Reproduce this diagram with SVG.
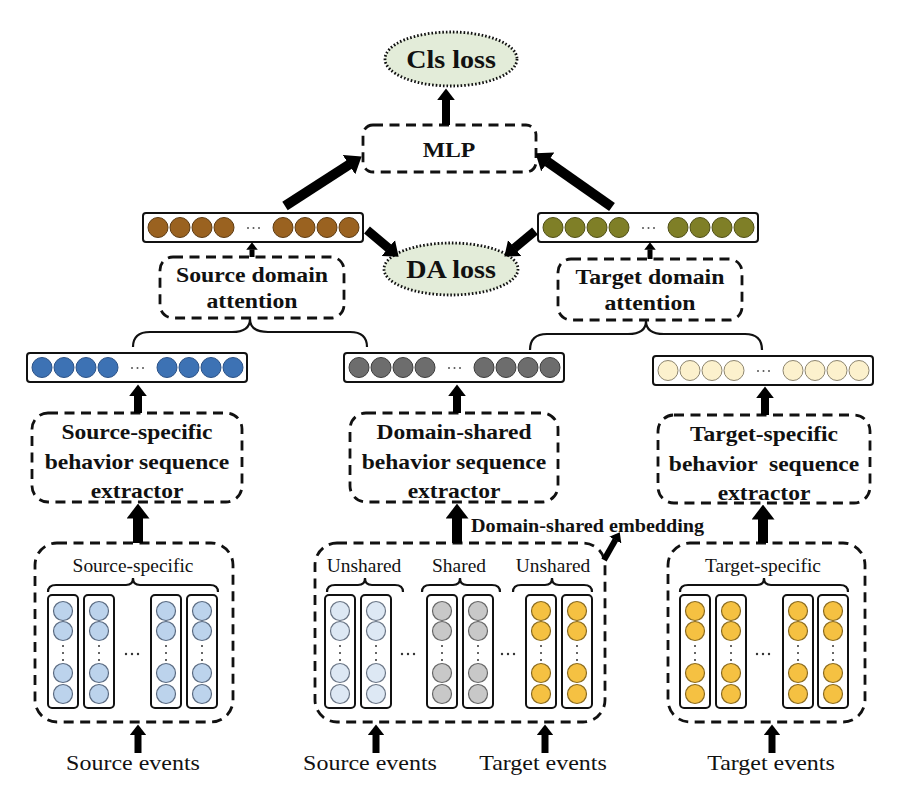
<svg xmlns="http://www.w3.org/2000/svg" xmlns:xlink="http://www.w3.org/1999/xlink" width="900" height="804" viewBox="0 0 900 804">
<style>
text{font-family:"Liberation Serif","Times New Roman",serif;fill:#111;text-anchor:middle}
.b{font-weight:bold}
.dash{fill:#fff;stroke:#111;stroke-width:2.8;stroke-dasharray:10 6.5}
.dot{fill:#e3ecd9;stroke:#111;stroke-width:2.8;stroke-dasharray:1.6 2}
.arr{stroke:#000;fill:none;marker-end:url(#ah)}
.brace{fill:none;stroke:#111;stroke-width:2.2}
</style>
<defs>
<marker id="ah" viewBox="0 0 15 23" markerWidth="1.5" markerHeight="2.3" refX="0.6" refY="11.5" orient="auto" markerUnits="strokeWidth">
<path d="M0,0 L15,11.5 L0,23 z" fill="#000"/>
</marker>
<g id="vec">
<rect x="0" y="0" width="220" height="29" rx="3" fill="#fff" stroke="#111" stroke-width="2"/>
<g stroke-width="1">
<circle cx="15" cy="14.5" r="10"/><circle cx="37" cy="14.5" r="10"/><circle cx="59" cy="14.5" r="10"/><circle cx="81" cy="14.5" r="10"/>
<circle cx="140" cy="14.5" r="10"/><circle cx="162" cy="14.5" r="10"/><circle cx="184" cy="14.5" r="10"/><circle cx="206" cy="14.5" r="10"/>
</g>
<g fill="#555" stroke="none"><circle cx="105" cy="15" r="1"/><circle cx="110.5" cy="15" r="1"/><circle cx="116" cy="15" r="1"/></g>
</g>
<g id="col">
<rect x="0" y="0" width="30" height="113" rx="4" fill="#fff" stroke="#111" stroke-width="2"/>
<g stroke-width="1.2">
<circle cx="15" cy="16" r="9.5"/><circle cx="15" cy="36" r="9.5"/><circle cx="15" cy="78" r="9.5"/><circle cx="15" cy="99" r="9.5"/>
</g>
<g fill="#333" stroke="none"><circle cx="15" cy="51" r="1"/><circle cx="15" cy="58" r="1"/><circle cx="15" cy="65" r="1"/></g>
</g>
<g id="hd" fill="#333"><circle cx="-6" cy="0" r="1.2"/><circle cx="0" cy="0" r="1.2"/><circle cx="6" cy="0" r="1.2"/></g>
</defs>

<rect width="900" height="804" fill="#fff"/>

<!-- Losses -->
<g id="cls-loss">
<ellipse class="dot" cx="451" cy="59" rx="66" ry="27"/>
<text class="b" font-size="26" transform="translate(451 68) scale(1.08 1)">Cls loss</text>
</g>
<g id="mlp">
<rect class="dash" x="363" y="125" width="173" height="47" rx="10"/>
<text class="b" font-size="22" transform="translate(449 157) scale(1.08 1)">MLP</text>
</g>
<g id="da-loss">
<ellipse class="dot" cx="451" cy="269" rx="67" ry="26"/>
<text class="b" font-size="26" transform="translate(451 278) scale(1.08 1)">DA loss</text>
</g>

<!-- Top vectors -->
<g id="src-vec"><use xlink:href="#vec" x="143" y="213" fill="#9a6220" stroke="#5c3a12"/></g>
<g id="tgt-vec"><use xlink:href="#vec" x="538" y="213" fill="#7f7f27" stroke="#4e4e16"/></g>

<!-- Attention boxes -->
<g id="src-att">
<rect class="dash" x="160" y="257" width="184" height="61" rx="13"/>
<text class="b" font-size="22" transform="translate(252 282) scale(1.08 1)">Source domain</text>
<text class="b" font-size="22" transform="translate(252 308) scale(1.08 1)">attention</text>
</g>
<g id="tgt-att">
<rect class="dash" x="558" y="259" width="184" height="61" rx="13"/>
<text class="b" font-size="22" transform="translate(650 284) scale(1.08 1)">Target domain</text>
<text class="b" font-size="22" transform="translate(650 310) scale(1.08 1)">attention</text>
</g>

<!-- Mid vectors -->
<g id="blue-vec"><use xlink:href="#vec" x="27" y="353" fill="#3d72b4" stroke="#2b5186"/></g>
<g id="gray-vec"><use xlink:href="#vec" x="344" y="353" fill="#6d6d6d" stroke="#3c3c3c"/></g>
<g id="cream-vec"><use xlink:href="#vec" x="653" y="356" fill="#fcf1cd" stroke="#8e8670"/></g>

<!-- Extractors -->
<g id="src-ext">
<rect class="dash" x="32" y="413" width="210" height="89" rx="16"/>
<text class="b" font-size="22" transform="translate(137 439) scale(1.07 1)">Source-specific</text>
<text class="b" font-size="22" transform="translate(137 469) scale(1.07 1)">behavior sequence</text>
<text class="b" font-size="22" transform="translate(137 498) scale(1.07 1)">extractor</text>
</g>
<g id="shared-ext">
<rect class="dash" x="350" y="413" width="208" height="89" rx="16"/>
<text class="b" font-size="22" transform="translate(454 439) scale(1.07 1)">Domain-shared</text>
<text class="b" font-size="22" transform="translate(454 469) scale(1.07 1)">behavior sequence</text>
<text class="b" font-size="22" transform="translate(454 498) scale(1.07 1)">extractor</text>
</g>
<g id="tgt-ext">
<rect class="dash" x="658" y="415" width="212" height="88" rx="16"/>
<text class="b" font-size="22" transform="translate(764 441) scale(1.07 1)">Target-specific</text>
<text class="b" font-size="22" transform="translate(764 471) scale(1.07 1)" xml:space="preserve">behavior  sequence</text>
<text class="b" font-size="22" transform="translate(764 500) scale(1.07 1)">extractor</text>
</g>

<!-- Embeddings -->
<g id="src-emb">
<rect class="dash" x="35" y="543" width="198" height="179" rx="22"/>
<text font-size="18" transform="translate(133 572) scale(1.08 1)">Source-specific</text>
<path class="brace" d="M48,592 Q48,585 56,585 L126,585 Q133,585 133,578 Q133,585 140,585 L210,585 Q218,585 218,592"/>
<g fill="#bcd3ec" stroke="#5a6a80">
<use xlink:href="#col" x="48" y="595"/><use xlink:href="#col" x="84" y="595"/><use xlink:href="#col" x="151" y="595"/><use xlink:href="#col" x="187" y="595"/>
</g>
<use xlink:href="#hd" x="132" y="654"/>
</g>
<g id="shared-emb">
<rect class="dash" x="315" y="543" width="290" height="179" rx="22"/>
<text font-size="18" transform="translate(364 572) scale(1.08 1)">Unshared</text>
<text font-size="18" transform="translate(459 572) scale(1.08 1)">Shared</text>
<text font-size="18" transform="translate(553 572) scale(1.08 1)">Unshared</text>
<path class="brace" d="M327,592 Q327,585 335,585 L358,585 Q365,585 365,578 Q365,585 372,585 L395,585 Q403,585 403,592"/>
<path class="brace" d="M422,592 Q422,585 430,585 L453,585 Q460,585 460,578 Q460,585 467,585 L492,585 Q500,585 500,592"/>
<path class="brace" d="M513,592 Q513,585 521,585 L545,585 Q552,585 552,578 Q552,585 559,585 L584,585 Q592,585 592,592"/>
<g fill="#dde8f4" stroke="#6a7585"><use xlink:href="#col" x="325" y="595"/><use xlink:href="#col" x="361" y="595"/></g>
<g fill="#c8c8c8" stroke="#666"><use xlink:href="#col" x="427" y="595"/><use xlink:href="#col" x="463" y="595"/></g>
<g fill="#f5c142" stroke="#8a6a1e"><use xlink:href="#col" x="526" y="595"/><use xlink:href="#col" x="562" y="595"/></g>
<use xlink:href="#hd" x="408" y="654"/>
<use xlink:href="#hd" x="508" y="654"/>
</g>
<g id="tgt-emb">
<rect class="dash" x="668" y="543" width="197" height="179" rx="22"/>
<text font-size="18" transform="translate(763 572) scale(1.08 1)">Target-specific</text>
<path class="brace" d="M680,592 Q680,585 688,585 L757,585 Q764,585 764,578 Q764,585 771,585 L840,585 Q848,585 848,592"/>
<g fill="#f5c142" stroke="#8a6a1e">
<use xlink:href="#col" x="680" y="595"/><use xlink:href="#col" x="716" y="595"/><use xlink:href="#col" x="783" y="595"/><use xlink:href="#col" x="818" y="595"/>
</g>
<use xlink:href="#hd" x="763" y="654"/>
</g>

<!-- Event labels -->
<g id="events">
<text font-size="22" transform="translate(133 770) scale(1.09 1)">Source events</text>
<text font-size="22" transform="translate(370 770) scale(1.09 1)">Source events</text>
<text font-size="22" transform="translate(543 770) scale(1.09 1)">Target events</text>
<text font-size="22" transform="translate(771 770) scale(1.09 1)">Target events</text>
<text class="b" font-size="18" style="text-anchor:start" transform="translate(471 532) scale(1.12 1)">Domain-shared embedding</text>
</g>

<!-- Connectors -->
<g id="connectors">
<path class="brace" d="M133,347 Q133,332 150,332 L232,332 Q250,332 250,319 Q250,332 268,332 L350,332 Q367,332 367,347"/>
<path class="brace" d="M530,350 Q530,334 547,334 L628,334 Q646,334 646,321 Q646,334 664,334 L745,334 Q762,334 762,350"/>

<line class="arr" stroke-width="8" x1="446" y1="125" x2="446" y2="100"/>
<line class="arr" stroke-width="10" x1="285" y1="206" x2="349.5" y2="164.4"/>
<line class="arr" stroke-width="10" x1="612" y1="207" x2="547.3" y2="161.6"/>
<line class="arr" stroke-width="9" x1="367" y1="230" x2="388.7" y2="248.3"/>
<line class="arr" stroke-width="9" x1="535" y1="231" x2="514.3" y2="248.3"/>

<line class="arr" stroke-width="5" x1="252" y1="257" x2="252" y2="249.5"/>
<line class="arr" stroke-width="5" x1="650" y1="259" x2="650" y2="249.5"/>

<line class="arr" stroke-width="8" x1="138" y1="413" x2="138" y2="396"/>
<line class="arr" stroke-width="8" x1="457" y1="413" x2="457" y2="396"/>
<line class="arr" stroke-width="8" x1="765" y1="415" x2="765" y2="398"/>

<line class="arr" stroke-width="10" x1="138" y1="543" x2="138" y2="518"/>
<line class="arr" stroke-width="10" x1="457" y1="543" x2="457" y2="518"/>
<line class="arr" stroke-width="10" x1="763" y1="543" x2="763" y2="519"/>

<line class="arr" stroke-width="7" x1="138" y1="753" x2="138" y2="734.5"/>
<line class="arr" stroke-width="7" x1="376" y1="753" x2="376" y2="734.5"/>
<line class="arr" stroke-width="7" x1="545" y1="753" x2="545" y2="734.5"/>
<line class="arr" stroke-width="7" x1="772" y1="753" x2="772" y2="734.5"/>

<line class="arr" stroke-width="6" x1="604" y1="560" x2="615.5" y2="539.8"/>
</g>
</svg>
